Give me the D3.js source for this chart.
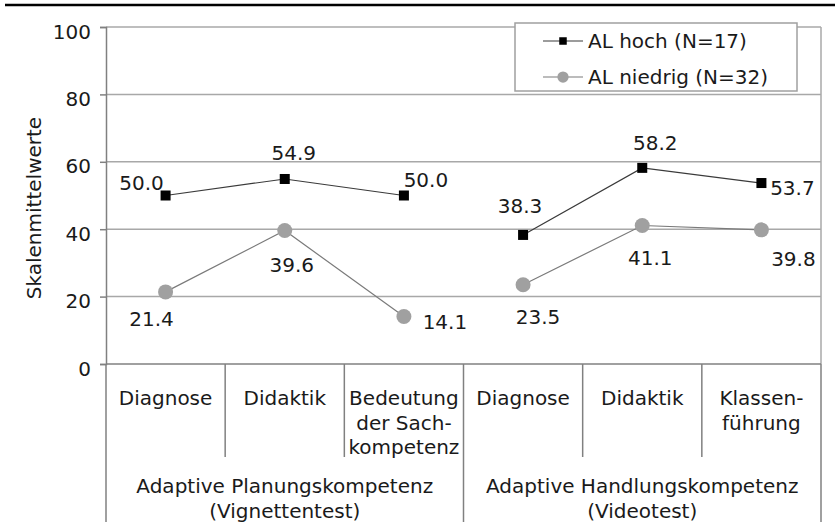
<!DOCTYPE html>
<html>
<head>
<meta charset="utf-8">
<script src="https://cdn.jsdelivr.net/npm/d3@7"></script>
<style>
  body { margin: 0; background: #fff; }
  svg text { font-family: "DejaVu Sans", Verdana, sans-serif; font-size: 20px; fill: #1a1a1a; }
</style>
</head>
<body>
<svg id="chart" width="835" height="530"></svg>
<script>
var categoryLabels = [["Diagnose"], ["Didaktik"], ["Bedeutung", "der Sach-", "kompetenz"],
                      ["Diagnose"], ["Didaktik"], ["Klassen-", "führung"]];
var groupLabels = [["Adaptive Planungskompetenz", "(Vignettentest)"],
                   ["Adaptive Handlungskompetenz", "(Videotest)"]];
var groupSizes = [3, 3];
var seriesNames = ["AL hoch (N=17)", "AL niedrig (N=32)"];
var hochValues = [50.0, 54.9, 50.0, 38.3, 58.2, 53.7];
var niedrigValues = [21.4, 39.6, 14.1, 23.5, 41.1, 39.8];
var yTicks = [0, 20, 40, 60, 80, 100];
var yTitle = "Skalenmittelwerte";

// where each value label sits relative to its point (dx, baseline dy)
var hochShift = [[-24, -6], [9, -19], [22, -9], [-3, -22], [13, -18], [31, 12]];
var niedrigShift = [[-14, 34], [7, 41], [41, 13], [15, 39], [8, 40], [32, 36]];

var svg = d3.select("#chart"),
    plotLeft = 106, plotRight = 821, plotTop = 27, plotBottom = 364;

var x = d3.scaleBand().domain(d3.range(categoryLabels.length)).range([plotLeft, plotRight]);
var y = d3.scaleLinear().domain([0, 100]).range([plotBottom, plotTop]);
var cx = function(i) { return x(i) + x.bandwidth() / 2; };

// rule at the very top
svg.append("line")
    .attr("x1", 5).attr("x2", 835).attr("y1", 5).attr("y2", 5)
    .attr("stroke", "#000").attr("stroke-width", 2.5);

// grid
svg.append("g").selectAll("line")
    .data(yTicks.filter(function(d) { return d > 0; }))
    .enter().append("line")
    .attr("x1", plotLeft).attr("x2", plotRight)
    .attr("y1", function(d) { return y(d); }).attr("y2", function(d) { return y(d); })
    .attr("stroke", "#a8a8a8").attr("stroke-width", 1.5);

svg.append("line")
    .attr("x1", plotRight).attr("x2", plotRight).attr("y1", plotTop).attr("y2", plotBottom)
    .attr("stroke", "#a8a8a8").attr("stroke-width", 1.5);

// y axis
var yAxis = svg.append("g")
    .attr("transform", "translate(" + plotLeft + ",0)")
    .call(d3.axisLeft(y).tickValues(yTicks).tickSize(6).tickPadding(9));
yAxis.select(".domain").attr("stroke", "#808080").attr("stroke-width", 1.5);
yAxis.selectAll(".tick line").attr("stroke", "#808080").attr("stroke-width", 1.5);
yAxis.selectAll(".tick text")
    .attr("dy", "0.55em")
    .style("font-family", "DejaVu Sans").style("font-size", "20px").attr("fill", "#1a1a1a");

svg.append("text")
    .attr("transform", "translate(41,208) rotate(-90)")
    .attr("text-anchor", "middle")
    .text(yTitle);

// x axis baseline
svg.append("line")
    .attr("x1", plotLeft).attr("x2", plotRight).attr("y1", plotBottom).attr("y2", plotBottom)
    .attr("stroke", "#808080").attr("stroke-width", 1.5);

// category dividers; the ones on group edges run down past the group labels
var groupEdges = [0];
groupSizes.forEach(function(n) { groupEdges.push(groupEdges[groupEdges.length - 1] + n); });

svg.append("g").selectAll("line")
    .data(d3.range(categoryLabels.length + 1))
    .enter().append("line")
    .attr("x1", function(i) { return plotLeft + i * x.step(); })
    .attr("x2", function(i) { return plotLeft + i * x.step(); })
    .attr("y1", plotBottom)
    .attr("y2", function(i) { return groupEdges.indexOf(i) >= 0 ? 522 : 457; })
    .attr("stroke", "#808080").attr("stroke-width", 1.5);

svg.append("g").selectAll("text")
    .data(categoryLabels)
    .enter().append("text")
    .attr("text-anchor", "middle")
    .each(function(lines, i) {
      d3.select(this).selectAll("tspan")
        .data(lines)
        .enter().append("tspan")
        .attr("x", cx(i))
        .attr("y", function(d, j) { return 405 + j * 24.5; })
        .text(function(d) { return d; });
    });

svg.append("g").selectAll("text")
    .data(groupLabels)
    .enter().append("text")
    .attr("text-anchor", "middle")
    .each(function(lines, g) {
      var mid = plotLeft + (groupEdges[g] + groupEdges[g + 1]) / 2 * x.step();
      d3.select(this).selectAll("tspan")
        .data(lines)
        .enter().append("tspan")
        .attr("x", mid)
        .attr("y", function(d, j) { return 493 + j * 25; })
        .text(function(d) { return d; });
    });

// series
var series = [
  { name: seriesNames[1], values: niedrigValues, shift: niedrigShift, line: "#7a7a7a", fill: "#a0a0a0", shape: "circle" },
  { name: seriesNames[0], values: hochValues, shift: hochShift, line: "#3a3a3a", fill: "#000", shape: "square" }
];

var line = d3.line()
    .x(function(d) { return cx(d.i); })
    .y(function(d) { return y(d.v); });

function marker(sel, s, px, py, scale) {
  if (s.shape === "square") {
    var h = 5 * scale;
    sel.append("rect").attr("x", px - h).attr("y", py - h)
      .attr("width", 2 * h).attr("height", 2 * h).attr("fill", s.fill);
  } else {
    sel.append("circle").attr("cx", px).attr("cy", py)
      .attr("r", 7.5 * scale).attr("fill", s.fill);
  }
}

series.forEach(function(s) {
  var g = svg.append("g");
  // lines are broken between the two groups
  for (var k = 0; k < groupSizes.length; k++) {
    var pts = d3.range(groupEdges[k], groupEdges[k + 1]).map(function(i) { return { i: i, v: s.values[i] }; });
    g.append("path")
      .attr("d", line(pts))
      .attr("fill", "none").attr("stroke", s.line).attr("stroke-width", 1.2);
  }
  s.values.forEach(function(v, i) {
    marker(g, s, cx(i), y(v), 1);
    g.append("text")
      .attr("x", cx(i) + s.shift[i][0])
      .attr("y", y(v) + s.shift[i][1])
      .attr("text-anchor", "middle")
      .text(d3.format(".1f")(v));
  });
});

// legend
var legend = svg.append("g");
legend.append("rect")
    .attr("x", 515).attr("y", 23).attr("width", 282).attr("height", 68)
    .attr("fill", "#fff").attr("stroke", "#a0a0a0").attr("stroke-width", 1.5);

[series[1], series[0]].forEach(function(s, k) {
  var ly = 41 + k * 36;
  legend.append("line")
    .attr("x1", 543).attr("x2", 583).attr("y1", ly).attr("y2", ly)
    .attr("stroke", s.line).attr("stroke-width", 1.2);
  marker(legend, s, 563, ly, 0.75);
  legend.append("text")
    .attr("x", 588).attr("y", ly).attr("dy", "0.36em")
    .text(s.name);
});
</script>
</body>
</html>
